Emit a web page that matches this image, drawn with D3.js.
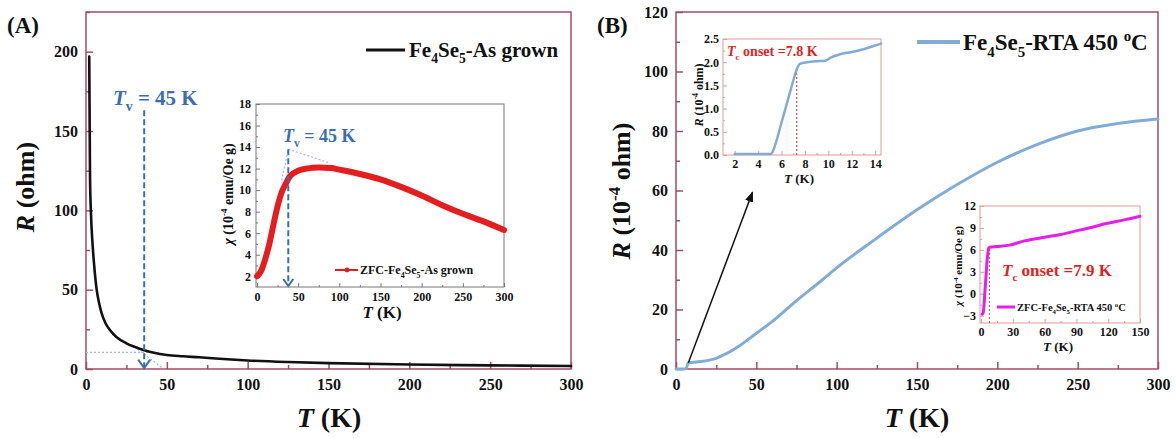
<!DOCTYPE html>
<html>
<head>
<meta charset="utf-8">
<title>Fe4Se5 R-T</title>
<script src="https://d3js.org/d3.v7.min.js"></script>
<style>
body{margin:0;background:#fff}
svg text{font-family:"Liberation Serif","Times New Roman",serif;font-weight:bold}
</style>
</head>
<body>
<script>
// ---- panel A : as grown, R(T)
const tempA = [2,2.2,2.5,3,4.1,5,6.6,8,9.7,12,14.8,19,25,30,35.5,42,50,60,70,85,100,125,150,200,250,300];
const resA  = [197,165,120,100,78,66,50,42,35,29,24.6,20,16.2,14,12,10.2,8.8,8,7.4,6.3,5.4,4.4,3.7,2.8,2.3,1.9];
// inset A : ZFC susceptibility
const tempChiA = [0,5,10,15,20,25,30,35,40,50,60,75,90,100,125,150,175,200,225,250,275,300];
const chiA     = [2.0,2.5,3.6,5.0,6.8,8.5,9.8,10.6,11.3,11.8,12.0,12.1,12.05,11.9,11.5,11.0,10.3,9.5,8.6,7.8,7.1,6.3];

// ---- panel B : RTA 450 C, R(T)
const tempB = [0,5,6.5,7.5,10,15,20,25,30,40,50,60,75,90,100,125,150,175,200,225,250,275,300];
const resB  = [0,0,0.3,2.0,2.2,2.5,2.9,3.6,4.8,8,12,16,23,29.5,34,44,53.5,62,69.5,75.5,80,82.5,84];
// inset B1 : low T resistance
const tempB1 = [2,3,4,5,5.2,5.5,6,6.5,7,7.3,7.6,8.2,9,9.7,10.2,11,12,13,14,14.5];
const resB1  = [0.02,0.02,0.02,0.02,0.05,0.25,0.7,1.15,1.6,1.85,1.97,2.0,2.02,2.03,2.1,2.17,2.22,2.28,2.36,2.4];
// inset B2 : ZFC susceptibility
const tempB2 = [1,2,4,6,7.2,8,15,27,40,55,75,93,105,118,135,150];
const chiB2  = [-2.8,-2.6,1,5,6.2,6.35,6.45,6.65,7.2,7.6,8.1,8.7,9.1,9.6,10.1,10.6];

// ticks
const tickMainT = [0,50,100,150,200,250,300];
const tickMainA = [0,50,100,150,200];
const tickMainB = [0,20,40,60,80,100,120];
const tickInsetA_T = [0,50,100,150,200,250,300];
const tickInsetA_Y = [2,4,6,8,10,12,14,16,18];
const tickB1_T = [2,4,6,8,10,12,14];
const tickB1_Y = [0,0.5,1,1.5,2,2.5];
const tickB2_T = [0,30,60,90,120,150];
const tickB2_Y = [-3,0,3,6,9,12];

const frameCol = "#a24d66";
const blue = "#3b6db3";
const lightBlue = "#80acd6";
const red = "#e41e1e";

const svg = d3.select("body").append("svg").attr("width",1176).attr("height",438);
svg.append("defs").append("marker")
  .attr("id","ah").attr("viewBox","0 0 10 10").attr("refX",9).attr("refY",5)
  .attr("markerWidth",7).attr("markerHeight",7).attr("orient","auto")
  .append("path").attr("d","M0,1 L10,5 L0,9 Z").attr("fill","#111");

function rich(sel, parts, size){
  let shift = 0;
  parts.forEach(p => {
    const str = Array.isArray(p) ? p[0] : p, kind = Array.isArray(p) ? p[1] : "";
    const t = sel.append("tspan").text(str);
    let target = 0;
    if (kind==="sub"){ target = size*0.3; t.attr("font-size", size*0.65) }
    else if (kind==="sup"){ target = -size*0.4; t.attr("font-size", size*0.65) }
    else if (kind==="i") t.attr("font-style","italic");
    if (target!==shift){ t.attr("dy", target-shift); shift = target }
  });
  return sel;
}

function label(x, y, size, parts, opt={}){
  const t = svg.append("text").attr("font-size",size).attr("fill",opt.fill||"#111")
    .attr("text-anchor",opt.anchor||"start");
  if (opt.rotate) t.attr("transform",`translate(${x},${y}) rotate(-90)`);
  else t.attr("x",x).attr("y",y);
  return rich(t, parts, size);
}

function frame(x, y, o){
  const [x0,x1] = x.range(), [y0,y1] = y.range();
  const g = svg.append("g");
  g.append("rect").attr("x",x0 - (o.padL||0)).attr("y",y1)
    .attr("width",x1-x0+(o.padL||0)).attr("height",y0-y1)
    .attr("fill",o.fill||"none").attr("stroke",o.color).attr("stroke-width",o.sw||1.5);
  const xa = d3.axisBottom(x).tickValues(o.xMajor).tickSize(-o.maj).tickSizeOuter(0).tickPadding(o.padX);
  const xm = d3.axisBottom(x).tickValues(o.xMinor).tickSize(-o.min).tickSizeOuter(0).tickFormat("");
  const ya = d3.axisLeft(y).tickValues(o.yMajor).tickSize(-o.maj).tickSizeOuter(0).tickPadding(o.padY);
  const ym = d3.axisLeft(y).tickValues(o.yMinor).tickSize(-o.min).tickSizeOuter(0).tickFormat("");
  if (o.fmtY) ya.tickFormat(o.fmtY);
  g.append("g").attr("transform",`translate(0,${y0})`).call(xm);
  g.append("g").attr("transform",`translate(0,${y0})`).call(xa);
  g.append("g").attr("transform",`translate(${x0 - (o.padL||0)},0)`).call(ym);
  g.append("g").attr("transform",`translate(${x0 - (o.padL||0)},0)`).call(ya);
  g.selectAll(".domain").remove();
  g.selectAll(".tick line").attr("stroke",o.color).attr("stroke-width",o.tw||1.5);
  g.selectAll(".tick text").attr("font-size",o.fs).attr("fill","#111")
    .attr("font-family","Liberation Serif, Times New Roman, serif").attr("font-weight","bold");
  return g;
}

function curve(x, y, xs, ys, color, w){
  const pts = xs.map((t,i)=>[t,ys[i]]);
  svg.append("path").datum(pts)
    .attr("d", d3.line().x(d=>x(d[0])).y(d=>y(d[1])).curve(d3.curveMonotoneX))
    .attr("fill","none").attr("stroke",color).attr("stroke-width",w)
    .attr("stroke-linejoin","round").attr("stroke-linecap","round");
}

function seg(x1,y1,x2,y2,color,w,dash){
  return svg.append("line").attr("x1",x1).attr("y1",y1).attr("x2",x2).attr("y2",y2)
    .attr("stroke",color).attr("stroke-width",w).attr("stroke-dasharray",dash||null);
}

function downArrow(x, yTop, yBot, w, head){
  seg(x,yTop,x,yBot-1,blue,w,"6,3");
  svg.append("path").attr("d",`M${x-head},${yBot-head*1.4} L${x},${yBot} L${x+head},${yBot-head*1.4}`)
    .attr("fill","none").attr("stroke",blue).attr("stroke-width",w);
}

const range = (a,b,s) => d3.range(a,b+s/2,s);

// ================= Panel A =================
const xA = d3.scaleLinear([0,300],[86,571]);
const yA = d3.scaleLinear([0,225],[369,12]);
frame(xA, yA, {color:frameCol, xMajor:tickMainT, xMinor:range(25,275,50), yMajor:tickMainA,
  yMinor:range(25,225,50), maj:7, min:4, padX:10, padY:8, fs:16});
// guide lines
seg(xA(0),yA(10.5),xA(45),yA(10.5),"#9fb7dd",1.2,"2,2");
seg(xA(30),yA(14),xA(48),yA(0),"#9fb7dd",1.2,"2,2");
curve(xA, yA, tempA, resA, "#111", 2.6);
downArrow(xA(36), yA(163), yA(0)-1, 2, 6);
label(113,105,21,[["T","i"],["v","sub"]," = 45 K"],{fill:blue});
seg(366,50,405,50,"#111",3);
label(409,57,21,["Fe",["4","sub"],"Se",["5","sub"],"-As grown"]);
label(7,33,23,["(A)"]);
label(329,427,28,[["T","i"]," (K)"],{anchor:"middle"});
label(34,187,26,[["R","i"]," (ohm)"],{anchor:"middle",rotate:true});

// inset A
const xAi = d3.scaleLinear([0,300],[257,504]);
const yAi = d3.scaleLinear([1,18],[287,104]);
frame(xAi, yAi, {color:"#777", fill:"#fff", padL:1, sw:1, tw:1, xMajor:tickInsetA_T, xMinor:range(25,275,50),
  yMajor:tickInsetA_Y, yMinor:range(3,17,2), maj:4, min:2, padX:5, padY:5, fs:12});
seg(xAi(30),yAi(10.9),xAi(38),yAi(13.8),"#9fb7dd",1.2,"2,2");
seg(xAi(38),yAi(13.8),xAi(89),yAi(12.5),"#9fb7dd",1.2,"2,2");
curve(xAi, yAi, tempChiA, chiA, red, 6);
downArrow(xAi(38), yAi(13.8), yAi(1)-1, 2, 5);
label(283,142,18,[["T","i"],["v","sub"]," = 45 K"],{fill:blue});
seg(335,270,358,270,red,2);
svg.append("circle").attr("cx",347).attr("cy",270).attr("r",2.4).attr("fill",red);
label(360,274,12,["ZFC-Fe",["4","sub"],"Se",["5","sub"],"-As grown"]);
label(382,318,17,[["T","i"]," (K)"],{anchor:"middle"});
label(233,194,14,[["χ","i"]," (10",["-4","sup"]," emu/Oe g)"],{anchor:"middle",rotate:true});

// ================= Panel B =================
const xB = d3.scaleLinear([0,300],[676,1158]);
const yB = d3.scaleLinear([0,120],[369,12]);
frame(xB, yB, {color:frameCol, xMajor:tickMainT, xMinor:range(25,275,50), yMajor:tickMainB,
  yMinor:range(10,110,20), maj:7, min:4, padX:10, padY:8, fs:16});
curve(xB, yB, tempB, resB, lightBlue, 3);
svg.append("line").attr("x1",xB(7.7)).attr("y1",yB(2.1)).attr("x2",xB(47.6)).attr("y2",yB(59.4))
  .attr("stroke","#111").attr("stroke-width",1.5).attr("marker-end","url(#ah)");
seg(917,42,960,42,lightBlue,4);
label(963,50,23,["Fe",["4","sub"],"Se",["5","sub"],"-RTA 450 ",["o","sup"],"C"]);
label(597,33,23,["(B)"]);
label(917,427,28,[["T","i"]," (K)"],{anchor:"middle"});
label(630,191,26,[["R","i"]," (10",["-4","sup"]," ohm)"],{anchor:"middle",rotate:true});

// inset B1
const xB1 = d3.scaleLinear([1,14.5],[723,881]);
const yB1 = d3.scaleLinear([0,2.5],[155,39]);
frame(xB1, yB1, {color:"#e39a9a", fill:"#fff", sw:1, tw:1, xMajor:tickB1_T, xMinor:range(3,13,2),
  yMajor:tickB1_Y, yMinor:range(0.25,2.25,0.5), maj:4, min:2, padX:4, padY:4, fs:12, fmtY:d3.format(".1f")});
seg(xB1(7.3),yB1(0),xB1(7.3),yB1(1.88),red,1,"2,2");
curve(xB1, yB1, tempB1, resB1, lightBlue, 2.5);
label(727,56,14,[["T","i"],["c","sub"]," onset =7.8 K"],{fill:red});
label(799,183,13,[["T","i"]," (K)"],{anchor:"middle"});
label(703,95,12,[["R","i"]," (10",["-4","sup"]," ohm)"],{anchor:"middle",rotate:true});

// inset B2
const xB2 = d3.scaleLinear([-1,150],[980,1140]);
const yB2 = d3.scaleLinear([-4,12],[323,206]);
frame(xB2, yB2, {color:"#e39a9a", fill:"#fff", sw:1, tw:1, xMajor:tickB2_T, xMinor:range(15,135,30),
  yMajor:tickB2_Y, yMinor:range(-1.5,10.5,3), maj:4, min:2, padX:4, padY:4, fs:12});
seg(xB2(7.9),yB2(-4),xB2(7.9),yB2(6.3),"#c05050",1,"2,2");
curve(xB2, yB2, tempB2, chiB2, "#e51ee8", 3);
label(1002,276,17,[["T","i"],["c","sub"]," onset =7.9 K"],{fill:red});
seg(997,307,1015,307,"#e51ee8",3);
label(1017,311,10.5,["ZFC-Fe",["4","sub"],"Se",["5","sub"],"-RTA 450 ",["o","sup"],"C"]);
label(1058,351,13,[["T","i"]," (K)"],{anchor:"middle"});
label(962,266,11,[["χ","i"]," (10",["-4","sup"]," emu/Oe g)"],{anchor:"middle",rotate:true});
</script>
</body>
</html>
